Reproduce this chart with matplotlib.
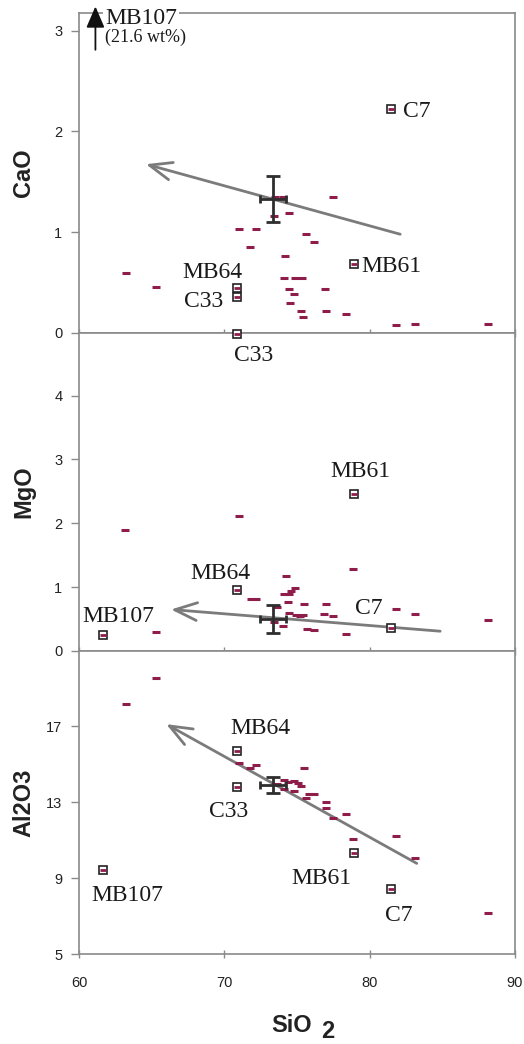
import matplotlib
matplotlib.use("Agg")
import matplotlib.pyplot as plt

# ---------------- data ----------------
# unlabelled samples
sio2_cao = [63.2, 65.33, 71.0, 72.2, 71.74, 73.45, 74.45, 73.5, 74.03, 77.47, 75.59, 76.14, 74.19,
            74.12, 74.88, 75.34, 74.45, 74.81, 74.54, 75.29, 75.38, 76.92, 76.99, 78.38, 81.82, 83.1, 88.14]
cao = [0.60, 0.46, 1.03, 1.03, 0.85, 1.16, 1.19, 1.345, 1.345, 1.345, 0.98, 0.90, 0.76,
       0.55, 0.55, 0.55, 0.44, 0.39, 0.30, 0.22, 0.16, 0.44, 0.22, 0.19, 0.08, 0.09, 0.09]

sio2_mgo = [63.15, 71.0, 65.3, 78.84, 74.26, 74.86, 74.6, 74.45, 74.08, 71.83, 72.15, 75.47, 77.0,
            74.35, 73.62, 78.34, 76.87, 77.51, 81.82, 83.15, 88.14, 74.9, 75.2, 75.4, 75.68, 76.14,
            74.03, 73.4, 74.45]
mgo = [1.89, 2.11, 0.30, 1.29, 1.17, 0.98, 0.94, 0.89, 0.90, 0.81, 0.82, 0.73, 0.73,
       0.77, 0.69, 0.27, 0.58, 0.55, 0.65, 0.58, 0.49, 0.57, 0.55, 0.57, 0.35, 0.33,
       0.39, 0.46, 0.60]

sio2_al = [65.3, 63.2, 88.14, 83.1, 81.82, 78.84, 78.38, 77.47, 77.0, 77.0, 75.8, 76.14, 75.5,
           72.15, 71.8, 71.0, 74.1, 74.35, 74.8, 75.1, 75.3, 74.8, 74.1, 73.6, 75.6]
al2o3 = [19.53, 18.16, 7.14, 10.04, 11.23, 11.05, 12.37, 12.14, 13.02, 12.67, 13.42, 13.42, 14.81,
         14.95, 14.77, 15.04, 14.16, 14.07, 14.1, 14.0, 13.84, 13.6, 13.7, 13.95, 13.19]

# labelled samples
lab_names = ["MB107", "MB64", "C33", "MB61", "C7"]
lab_sio2 = [61.66, 70.89, 70.85, 78.9, 81.45]
lab_cao = [21.6, 0.45, 0.36, 0.68, 2.22]
lab_mgo = [0.25, 0.95, 4.97, 2.46, 0.36]
lab_al2o3 = [9.42, 15.70, 13.81, 10.30, 8.42]

# mean with error
mean_sio2, err_sio2 = 73.35, 0.92
mean_cao, err_cao = 1.33, 0.23
mean_mgo, err_mgo = 0.50, 0.22
mean_al, err_al = 13.89, 0.44

# trend vectors (start, end)
trend_sio2 = [(82.1, 64.6), (84.85, 66.33), (83.24, 66.0)]
trend_cao = (0.98, 1.675)
trend_mgo = (0.31, 0.65)
trend_al = (9.77, 17.1)

xticks = [60, 70, 80, 90]

# ---------------- style ----------------
RED = "#8e1d4b"
SPINE = "#8a8a8a"
SERIF = "Liberation Serif"
SANS = "Liberation Sans"
plt.rcParams["font.family"] = SANS

fig = plt.figure(figsize=(5.24, 10.44), dpi=100)
L, W = 79 / 524, 436 / 524
ax1 = fig.add_axes([L, (1044 - 333) / 1044, W, 320 / 1044])
ax2 = fig.add_axes([L, (1044 - 651) / 1044, W, 318 / 1044])
ax3 = fig.add_axes([L, (1044 - 954) / 1044, W, 303 / 1044])

def style(ax, ylim, yticks, ylabel, show_x):
    ax.set_xlim(60, 90)
    ax.set_ylim(*ylim)
    ax.set_yticks(yticks)
    ax.set_xticks(xticks)
    for s in ax.spines.values():
        s.set_color(SPINE)
        s.set_linewidth(1.2)
    ax.tick_params(axis="y", direction="out", length=6, width=1, color=SPINE,
                   labelsize=10.5, pad=6, labelcolor="#222222")
    ax.tick_params(axis="x", direction="inout", length=6, width=1, color=SPINE,
                   labelsize=10.5, pad=13, labelcolor="#222222", labelbottom=show_x)
    ax.set_ylabel(ylabel, fontsize=17, fontweight="bold", color="#222222")
    ax.yaxis.set_label_coords(-0.10, 0.5)

style(ax1, (0, 3.175), [0, 1, 2, 3], "CaO", False)
style(ax2, (0, 4.98), [0, 1, 2, 3, 4], "MgO", False)
style(ax3, (5, 20.95), [5, 9, 13, 17], "Al2O3", True)

def trend(ax, xs, ys):
    ax.annotate("", xy=(xs[1], ys[1]), xytext=(xs[0], ys[0]),
                arrowprops=dict(arrowstyle="->,head_length=0.8,head_width=0.32",
                                color="#7b7b7b", lw=2.0, mutation_scale=20,
                                shrinkA=0, shrinkB=0), zorder=3)

def errs(ax, my, ey):
    ax.errorbar([mean_sio2], [my], yerr=[ey], fmt="none", ecolor="#2e2e2e",
                elinewidth=2.0, capsize=5, capthick=2.0, zorder=6)
    ax.errorbar([mean_sio2], [my], xerr=[err_sio2], fmt="none", ecolor="#2e2e2e",
                elinewidth=2.0, capsize=3, capthick=2.0, zorder=6)

def points(ax, xs, ys):
    ax.plot(xs, ys, ls="none", marker="_", ms=5.5, mew=2.2, color=RED, zorder=4)

def labelled(ax, xs, ys):
    ax.plot(xs, ys, ls="none", marker="s", ms=6.2, mfc="white", mec="#222222", mew=1.2,
            zorder=4, clip_on=False)
    ax.plot(xs, ys, ls="none", marker="_", ms=4, mew=2.0, color=RED, zorder=5, clip_on=False)

def lab(ax, x, y, s, ha="center"):
    ax.text(x, y, s, fontsize=17, family=SERIF, ha=ha, va="center", color="#1a1a1a",
            zorder=7, clip_on=False)

# --- CaO panel ---
trend(ax1, trend_sio2[0], trend_cao)
points(ax1, sio2_cao, cao)
labelled(ax1, lab_sio2[1:], lab_cao[1:])
errs(ax1, mean_cao, err_cao)
lab(ax1, 82.3, 2.195, "C7", ha="left")
lab(ax1, 79.45, 0.655, "MB61", ha="left")
lab(ax1, 69.15, 0.60, "MB64")
lab(ax1, 68.56, 0.31, "C33")
# MB107 off-scale marker
ax1.annotate("", xy=(61.13, 3.24), xytext=(61.13, 2.81),
             arrowprops=dict(arrowstyle="-|>,head_length=0.65,head_width=0.28",
                             color="#111111", lw=1.3, mutation_scale=20,
                             shrinkA=0, shrinkB=0),
             annotation_clip=False, zorder=9)
ax1.text(61.82, 3.12, "MB107", fontsize=17, family=SERIF, ha="left", va="center",
         color="#1a1a1a", clip_on=False, zorder=8,
         bbox=dict(facecolor="white", edgecolor="none", pad=1.5))
ax1.text(61.82, 2.93, "(21.6 wt%)", fontsize=13, family=SERIF, ha="left", va="center",
         color="#1a1a1a", clip_on=False, zorder=8)

# --- MgO panel ---
trend(ax2, trend_sio2[1], trend_mgo)
points(ax2, sio2_mgo, mgo)
labelled(ax2, lab_sio2, lab_mgo)
errs(ax2, mean_mgo, err_mgo)
lab(ax2, 72.0, 4.62, "C33")
lab(ax2, 79.35, 2.81, "MB61")
lab(ax2, 69.73, 1.22, "MB64")
lab(ax2, 79.97, 0.665, "C7")
lab(ax2, 62.7, 0.545, "MB107")

# --- Al2O3 panel ---
trend(ax3, trend_sio2[2], trend_al)
points(ax3, sio2_al, al2o3)
labelled(ax3, lab_sio2, lab_al2o3)
errs(ax3, mean_al, err_al)
lab(ax3, 72.47, 16.89, "MB64")
lab(ax3, 70.27, 12.49, "C33")
lab(ax3, 63.31, 8.1, "MB107")
lab(ax3, 76.71, 9.0, "MB61")
lab(ax3, 82.03, 7.05, "C7")

# x-axis label with subscript
fig.text(292 / 524, 1 - 1025 / 1044, "SiO", fontsize=17, fontweight="bold",
         ha="center", va="center", color="#222222")
fig.text(328 / 524, 1 - 1031 / 1044, "2", fontsize=17, fontweight="bold",
         ha="center", va="center", color="#222222")

fig.savefig("out.png", dpi=100)
